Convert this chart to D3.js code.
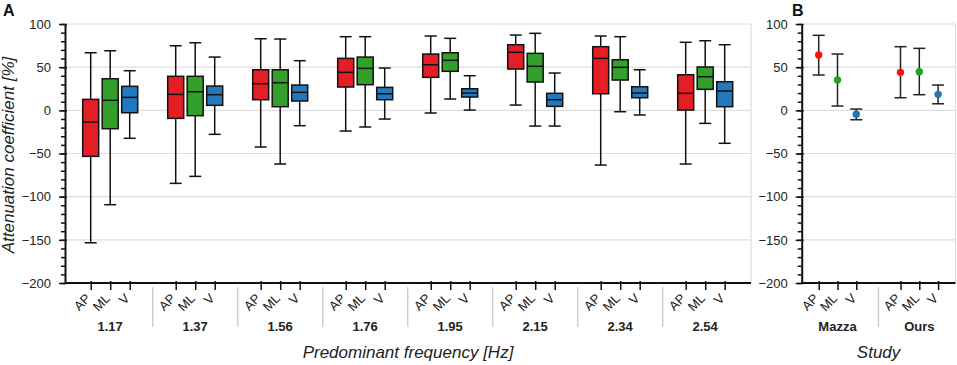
<!DOCTYPE html>
<html>
<head>
<meta charset="utf-8">
<script src="https://cdn.jsdelivr.net/npm/d3@7"></script>
<style>
  body { margin: 0; background: #fff; }
  svg { font-family: "Liberation Sans", Arial, sans-serif; }
</style>
</head>
<body>
<script>
// frequencies (panel A) and studies (panel B)
var freqs = ['1.17', '1.37', '1.56', '1.76', '1.95', '2.15', '2.34', '2.54'];
var directions = ['AP', 'ML', 'V'];
var studies = ['Mazza', 'Ours'];

// box stats per frequency: [min, q1, median, q3, max]
var apBox = [
  [-153.4, -53.3, -13.6, 12.7, 66.7],
  [-84.6, -9.3, 18.5, 39.4, 74.8],
  [-42.5, 12.3, 30.8, 47, 82.9],
  [-24, 27, 44, 60.2, 85.3],
  [-3.1, 38.2, 52.8, 65.2, 86.1],
  [6.1, 47.8, 67.2, 76, 87.2],
  [-63.4, 19.2, 60.2, 73.7, 86.1],
  [-62.2, 0.3, 19.7, 41.2, 78.8]
];
var mlBox = [
  [-109.3, -21.3, 11.6, 36.6, 69],
  [-76.5, -6.2, 21.5, 39.4, 78.3],
  [-62.2, 4.2, 32, 47, 82.6],
  [-19.3, 29.7, 48.6, 61.7, 85.3],
  [13.1, 45.2, 57.9, 66.7, 83.4],
  [-18.2, 32.8, 51, 66, 89.2],
  [-1.6, 35.1, 49.8, 58.6, 85.3],
  [-15.1, 24.3, 38.9, 50.2, 80.6]
];
var vBox = [
  [-32.4, -2.8, 15, 27.8, 45.9],
  [-27.8, 5.8, 18.1, 28.1, 61.7],
  [-17.8, 10.8, 20.8, 29.3, 57.5],
  [-10.1, 12.3, 19.2, 26.6, 49],
  [0.3, 15.4, 20, 25, 40.1],
  [-18.2, 4.6, 12.3, 19.7, 43.2],
  [-5.4, 14.6, 20, 27.3, 47],
  [-38.2, 4.2, 22.4, 33.1, 76]
];

// panel B: [low, mean, high] per study
var apStudy = [[40.9, 64.1, 86.9], [14.6, 44, 73.7]];
var mlStudy = [[5, 35.1, 65.2], [18.1, 44.7, 71.8]];
var vStudy = [[-10.9, -4.6, 1.5], [7.6, 18.5, 29.3]];

var yTicks = [-200, -150, -100, -50, 0, 50, 100];

var boxColors = {AP: '#e31e24', ML: '#33a02c', V: '#2379be'};
var dotColors = {AP: '#ff1010', ML: '#22a022', V: '#1f77b4'};

var w = 957, h = 365;

var svg = d3.select("body").append("svg")
    .attr("width", w)
    .attr("height", h);

var y = d3.scaleLinear().domain([-200, 100]).range([283, 24]);

var xA = d3.scaleBand().domain(freqs).range([67.7, 747.7]);
var xB = d3.scaleBand().domain(studies).range([796.6, 960.2]);
var innerA = d3.scalePoint().domain(directions).range([-19.5, 19.5]);
var innerB = d3.scalePoint().domain(directions).range([-18.8, 18.8]);

var panels = [
  {left: 65, right: 751, x: xA, inner: innerA, groups: freqs, letter: 'A', title: 'Predominant frequency [Hz]'},
  {left: 801.7, right: 955.5, x: xB, inner: innerB, groups: studies, letter: 'B', title: 'Study'}
];

panels.forEach(function(p) {
  // gridlines
  svg.append("g").selectAll("line")
    .data(yTicks.filter(function(d) { return d > -200; }))
    .enter().append("line")
    .attr("x1", p.left).attr("x2", p.right)
    .attr("y1", function(d) { return y(d); })
    .attr("y2", function(d) { return y(d); })
    .attr("stroke", "#dedede")
    .attr("stroke-width", 1.2);

  // right border
  svg.append("line")
    .attr("x1", p.right).attr("x2", p.right)
    .attr("y1", y(100)).attr("y2", y(-200))
    .attr("stroke", "#dedede")
    .attr("stroke-width", 1.2);

  // minor ticks
  var minor = svg.append("g")
    .attr("transform", "translate(" + p.left + ",0)")
    .call(d3.axisLeft(y).tickValues(d3.range(-200, 101, 10)).tickSize(4).tickFormat(""));
  minor.select(".domain").remove();
  minor.selectAll("line").attr("stroke", "#111").attr("stroke-width", 1.5);

  // y axis
  var yAx = svg.append("g")
    .attr("transform", "translate(" + p.left + ",0)")
    .call(d3.axisLeft(y).tickValues(yTicks).tickSize(6).tickSizeOuter(0).tickPadding(8));
  yAx.select(".domain").attr("stroke", "#111").attr("stroke-width", 2);
  yAx.selectAll(".tick line").attr("x1", 2).attr("stroke", "#111").attr("stroke-width", 1.5);
  yAx.selectAll("text")
    .attr("font-family", "Liberation Sans, Arial, sans-serif")
    .attr("font-size", "13px")
    .attr("fill", "#222");

  // x axis: one tick per direction inside each group
  var keys = [];
  p.groups.forEach(function(g) {
    directions.forEach(function(d) { keys.push(g + "|" + d); });
  });
  var xTick = d3.scaleOrdinal()
    .domain(keys)
    .range(keys.map(function(k) {
      var s = k.split("|");
      return p.x(s[0]) + p.x.bandwidth() / 2 + p.inner(s[1]);
    }));

  var xAx = svg.append("g")
    .attr("transform", "translate(0," + y(-200) + ")")
    .call(d3.axisBottom(xTick).tickSize(7).tickFormat(function(k) { return k.split("|")[1]; }));
  xAx.select(".domain").remove();
  xAx.selectAll(".tick line").attr("y1", -2).attr("stroke", "#111").attr("stroke-width", 1.5);
  xAx.selectAll("text")
    .attr("x", 0).attr("y", 0).attr("dy", "0.35em")
    .attr("transform", "translate(-3,13) rotate(-45)")
    .attr("text-anchor", "end")
    .attr("font-family", "Liberation Sans, Arial, sans-serif")
    .attr("font-size", "13px")
    .attr("fill", "#222");

  // baseline
  svg.append("line")
    .attr("x1", p.left).attr("x2", p.right)
    .attr("y1", y(-200)).attr("y2", y(-200))
    .attr("stroke", "#111").attr("stroke-width", 2);

  // group separators
  svg.append("g").selectAll("line")
    .data(p.groups.slice(1))
    .enter().append("line")
    .attr("x1", function(d) { return p.x(d); })
    .attr("x2", function(d) { return p.x(d); })
    .attr("y1", 287).attr("y2", 327)
    .attr("stroke", "#cfcfcf").attr("stroke-width", 1.5);

  // group labels
  svg.append("g").selectAll("text")
    .data(p.groups)
    .enter().append("text")
    .attr("x", function(d) { return p.x(d) + p.x.bandwidth() / 2; })
    .attr("y", 330.5)
    .attr("text-anchor", "middle")
    .attr("font-weight", "bold")
    .attr("font-size", "13px")
    .attr("fill", "#222")
    .text(function(d) { return d; });

  // axis title
  svg.append("text")
    .attr("x", (p.left + p.right) / 2)
    .attr("y", 358)
    .attr("text-anchor", "middle")
    .attr("font-style", "italic")
    .attr("font-size", "17px")
    .attr("fill", "#222")
    .text(p.title);

  // panel letter
  svg.append("text")
    .attr("x", p.letter === 'A' ? 3 : 792)
    .attr("y", 15.5)
    .attr("font-weight", "bold")
    .attr("font-size", "16px")
    .attr("fill", "#111")
    .text(p.letter);
});

// y title
svg.append("text")
  .attr("transform", "translate(14,155) rotate(-90)")
  .attr("text-anchor", "middle")
  .attr("font-style", "italic")
  .attr("font-size", "17px")
  .attr("fill", "#222")
  .text("Attenuation coefficient [%]");

// panel A boxes
var boxData = {AP: apBox, ML: mlBox, V: vBox};
var boxW = 16, capW = 12;

directions.forEach(function(dir) {
  var g = svg.append("g").selectAll("g")
    .data(boxData[dir])
    .enter().append("g")
    .attr("transform", function(d, i) {
      return "translate(" + (xA(freqs[i]) + xA.bandwidth() / 2 + innerA(dir)) + ",0)";
    });

  g.append("line")
    .attr("x1", 0).attr("x2", 0)
    .attr("y1", function(d) { return y(d[0]); })
    .attr("y2", function(d) { return y(d[4]); })
    .attr("stroke", "#111").attr("stroke-width", 1.5);

  g.selectAll("line.cap")
    .data(function(d) { return [d[0], d[4]]; })
    .enter().append("line")
    .attr("class", "cap")
    .attr("x1", -capW / 2).attr("x2", capW / 2)
    .attr("y1", function(v) { return y(v); })
    .attr("y2", function(v) { return y(v); })
    .attr("stroke", "#111").attr("stroke-width", 1.5);

  g.append("rect")
    .attr("x", -boxW / 2)
    .attr("width", boxW)
    .attr("y", function(d) { return y(d[3]); })
    .attr("height", function(d) { return y(d[1]) - y(d[3]); })
    .attr("fill", boxColors[dir])
    .attr("stroke", "#111").attr("stroke-width", 1.5);

  g.append("line")
    .attr("x1", -boxW / 2).attr("x2", boxW / 2)
    .attr("y1", function(d) { return y(d[2]); })
    .attr("y2", function(d) { return y(d[2]); })
    .attr("stroke", "#111").attr("stroke-width", 1.5);
});

// panel B error bars
var studyData = {AP: apStudy, ML: mlStudy, V: vStudy};

directions.forEach(function(dir) {
  var g = svg.append("g").selectAll("g")
    .data(studyData[dir])
    .enter().append("g")
    .attr("transform", function(d, i) {
      return "translate(" + (xB(studies[i]) + xB.bandwidth() / 2 + innerB(dir)) + ",0)";
    });

  g.append("line")
    .attr("x1", 0).attr("x2", 0)
    .attr("y1", function(d) { return y(d[0]); })
    .attr("y2", function(d) { return y(d[2]); })
    .attr("stroke", "#222").attr("stroke-width", 1.5);

  g.selectAll("line.cap")
    .data(function(d) { return [d[0], d[2]]; })
    .enter().append("line")
    .attr("class", "cap")
    .attr("x1", -capW / 2).attr("x2", capW / 2)
    .attr("y1", function(v) { return y(v); })
    .attr("y2", function(v) { return y(v); })
    .attr("stroke", "#222").attr("stroke-width", 1.5);

  g.append("circle")
    .attr("cy", function(d) { return y(d[1]); })
    .attr("r", 3.7)
    .attr("fill", dotColors[dir]);
});
</script>
</body>
</html>
